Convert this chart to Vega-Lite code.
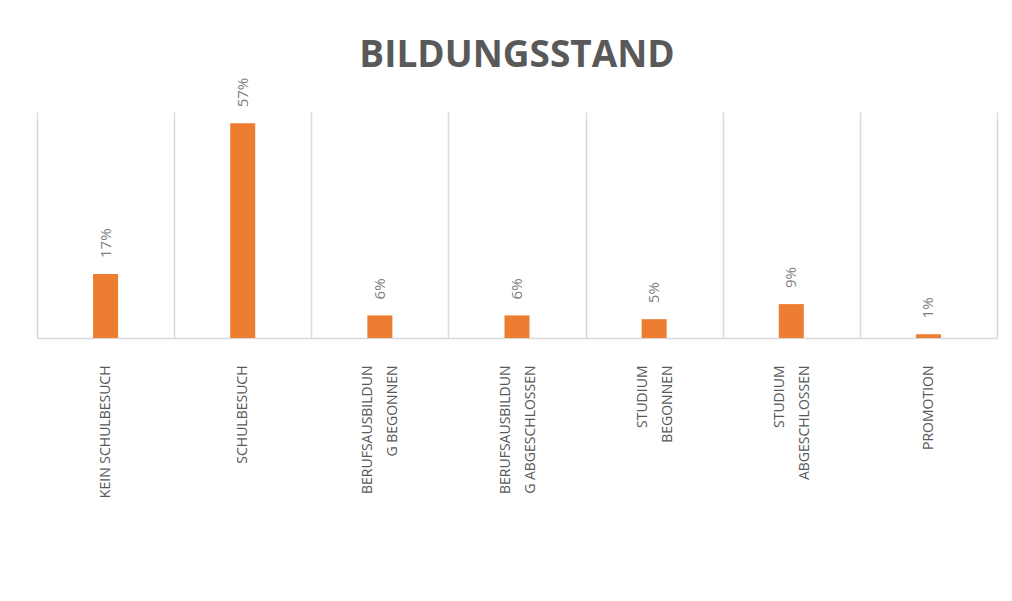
{
  "$schema": "https://vega.github.io/schema/vega-lite/v6.json",
  "width": 960,
  "height": 226,
  "autosize": {"type": "none"},
  "padding": {"left": 37, "top": 112, "right": 15, "bottom": 263},
  "background": "white",
  "title": {
    "text": "BILDUNGSSTAND",
    "font": "Open Sans",
    "fontSize": 37,
    "fontWeight": "bold",
    "color": "#595959",
    "anchor": "middle",
    "frame": "group",
    "offset": 3
  },
  "data": {
    "values": [
      {"kategorie": "KEIN SCHULBESUCH", "anteil": 0.17},
      {"kategorie": "SCHULBESUCH", "anteil": 0.57},
      {"kategorie": "BERUFSAUSBILDUN\nG BEGONNEN", "anteil": 0.06},
      {"kategorie": "BERUFSAUSBILDUN\nG ABGESCHLOSSEN", "anteil": 0.06},
      {"kategorie": "STUDIUM\nBEGONNEN", "anteil": 0.05},
      {"kategorie": "STUDIUM\nABGESCHLOSSEN", "anteil": 0.09},
      {"kategorie": "PROMOTION", "anteil": 0.01}
    ]
  },
  "encoding": {
    "x": {
      "field": "kategorie",
      "type": "nominal",
      "sort": null,
      "scale": {"paddingInner": 0, "paddingOuter": 0},
      "axis": {
        "title": null,
        "labelAngle": -90,
        "labelFont": "Open Sans",
        "labelFontSize": 14,
        "labelColor": "#595959",
        "labelPadding": 27,
        "labelLineHeight": 25,
        "labelLimit": 400,
        "labelOverlap": false,
        "labelExpr": "split(datum.label, '\\n')",
        "labelOffset": {"condition": {"test": "indexof(datum.label, '\\n') >= 0", "value": -12}, "value": 0},
        "ticks": false,
        "domainColor": "#D9D9D9",
        "domainWidth": 1.5,
        "grid": true,
        "gridColor": "#D9D9D9",
        "gridWidth": 1.5,
        "tickBand": "extent"
      }
    },
    "y": {
      "field": "anteil",
      "type": "quantitative",
      "scale": {"domain": [0, 0.6]},
      "axis": null
    }
  },
  "layer": [
    {"mark": {"type": "bar", "color": "#ED7D31", "size": 25}},
    {
      "mark": {
        "type": "text",
        "angle": 270,
        "align": "left",
        "baseline": "middle",
        "dx": 16,
        "font": "Open Sans",
        "fontSize": 15,
        "color": "#7F7F7F"
      },
      "encoding": {"text": {"field": "anteil", "type": "quantitative", "format": ".0%"}}
    }
  ],
  "config": {"view": {"stroke": null}}
}
